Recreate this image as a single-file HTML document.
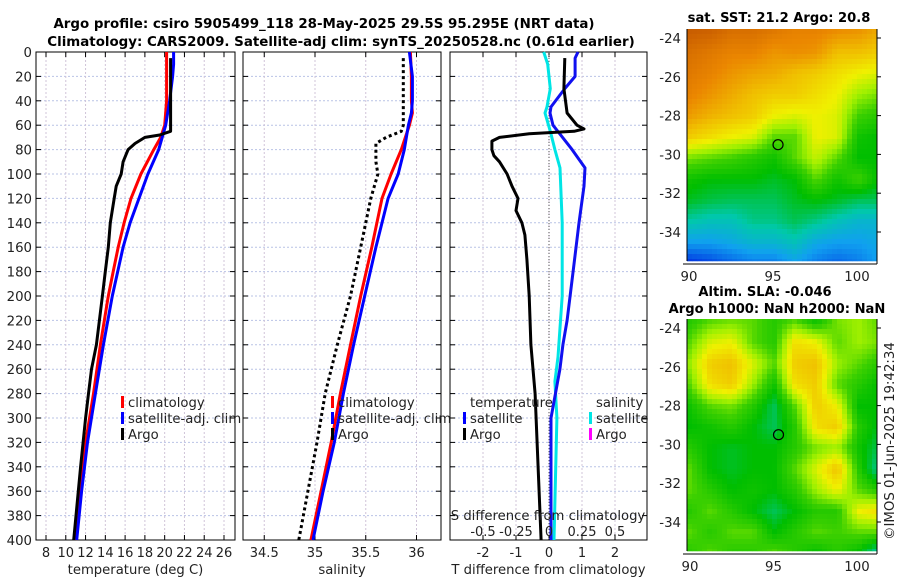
<!DOCTYPE html>
<html><head><meta charset="utf-8"><style>
html,body{margin:0;padding:0;background:#fff;}
svg{display:block;font-family:"DejaVu Sans","Liberation Sans",sans-serif;}
</style></head><body>
<svg id="fig" width="900" height="580" viewBox="0 0 900 580" xmlns="http://www.w3.org/2000/svg">
<text x="324" y="28" text-anchor="middle" font-size="13.4" font-weight="bold">Argo profile: csiro 5905499_118 28-May-2025 29.5S 95.295E (NRT data)</text>
<text x="341" y="46" text-anchor="middle" font-size="13.4" font-weight="bold">Climatology: CARS2009. Satellite-adj clim: synTS_20250528.nc (0.61d earlier)</text>
<text x="779" y="22" text-anchor="middle" font-size="13.1" font-weight="bold">sat. SST: 21.2 Argo: 20.8</text>
<text x="765" y="296" text-anchor="middle" font-size="13.1" font-weight="bold">Altim. SLA: -0.046</text>
<text x="777" y="313" text-anchor="middle" font-size="13.1" font-weight="bold">Argo h1000: NaN h2000: NaN</text>
<text transform="translate(894,441) rotate(-90)" text-anchor="middle" font-size="13.3" fill="#222">©IMOS 01-Jun-2025 19:42:34</text>
<g id="panels"></g>
<g id="maps"></g>
</svg>
<script>
// ---------- data ----------
const depthClim = [0,20,40,60,70,80,100,120,140,160,180,200,240,280,320,360,400];
const tempClim  = [20.2,20.2,20.2,20.0,19.6,18.9,17.6,16.6,15.9,15.3,14.8,14.3,13.5,12.8,12.0,11.5,11.0];
const depthSat = [0,10,20,40,60,80,100,120,140,160,200,240,280,320,360,400];
const tempSat  = [20.9,20.9,20.8,20.5,20.1,19.4,18.3,17.4,16.5,15.8,14.7,13.8,13.0,12.2,11.6,11.1];
const depthArgo = [5,60,65,68,70,75,80,90,100,110,120,140,160,180,200,240,260,280,300,340,400];
const tempArgo  = [20.6,20.6,20.6,19.5,18.0,17.0,16.3,15.8,15.6,15.1,14.9,14.5,14.3,14.0,13.7,13.1,12.6,12.3,12.0,11.5,10.8];
const depthSalClim = [0,20,40,50,60,80,100,120,160,200,240,280,320,360,400];
const salClim  = [35.94,35.95,35.95,35.96,35.93,35.85,35.75,35.66,35.56,35.45,35.35,35.25,35.16,35.06,34.96];
const salSat   = [35.93,35.96,35.96,35.95,35.92,35.88,35.82,35.72,35.60,35.49,35.38,35.28,35.19,35.08,34.98];
const depthSalArgo = [5,60,65,70,75,90,100,120,160,200,240,280,320,360,400];
const salArgo  = [35.87,35.87,35.85,35.70,35.60,35.60,35.62,35.55,35.45,35.35,35.22,35.10,35.02,34.93,34.84];
const depthTdSat = [0,5,20,30,45,50,60,80,95,110,140,180,220,240,260,300,400];
const tDiffSat   = [0.88,0.79,0.79,0.48,0.06,0.03,0.12,0.70,1.09,1.06,0.91,0.73,0.55,0.42,0.33,0.06,0.06];
const depthTdArgo = [5,30,50,60,63,65,67,70,73,80,85,90,100,110,120,130,140,150,170,200,240,280,320,360,400];
const tDiffArgo   = [0.48,0.45,0.55,0.85,1.06,0.76,-0.6,-1.5,-1.73,-1.73,-1.67,-1.5,-1.27,-1.12,-0.94,-1.0,-0.82,-0.73,-0.67,-0.6,-0.55,-0.42,-0.36,-0.3,-0.24];
const depthSdSat = [0,10,30,45,50,65,80,95,140,200,250,270,300,400];
const sDiffSat   = [-0.04,-0.01,0.01,-0.015,-0.03,0.01,0.045,0.083,0.1,0.1,0.068,0.045,0.06,0.038];
const depthTicks = [0,20,40,60,80,100,120,140,160,180,200,220,240,260,280,300,320,340,360,380,400];
const tempTicks = [8,10,12,14,16,18,20,22,24,26];
const salTicks = [34.5,35,35.5,36];
const tdTicks = [-2,-1,0,1,2];
const sdTicks = [-0.5,-0.25,0,0.25,0.5];
const latTicks = [-24,-26,-28,-30,-32,-34];
const lonTicks = [90,95,100];
const argoLon = 95.3, argoLat = -29.5;
const sstGrid = [
[.97,.96,.93,.93,.91,.89,.89,.87,.86,.83],
[.93,.91,.89,.89,.86,.87,.86,.8,.8,.78],
[.91,.89,.86,.84,.83,.8,.78,.75,.72,.7],
[.89,.86,.83,.8,.78,.78,.75,.72,.65,.62],
[.85,.82,.8,.78,.72,.7,.72,.7,.58,.55],
[.78,.75,.72,.7,.6,.6,.72,.7,.52,.5],
[.62,.6,.58,.55,.52,.6,.68,.6,.5,.5],
[.52,.5,.5,.5,.48,.5,.6,.52,.58,.5],
[.48,.46,.45,.45,.45,.48,.5,.48,.45,.45],
[.4,.38,.38,.42,.42,.45,.42,.38,.35,.35],
[.3,.3,.32,.35,.35,.38,.32,.3,.3,.32],
[.15,.18,.22,.25,.25,.3,.25,.22,.25,.3]];
const slaGrid = [
[.55,.6,.62,.6,.55,.6,.52,.62,.65,.6],
[.6,.7,.72,.6,.55,.75,.72,.6,.65,.62],
[.65,.78,.8,.7,.6,.78,.8,.65,.6,.55],
[.6,.75,.78,.65,.52,.75,.78,.6,.55,.5],
[.52,.6,.62,.55,.45,.6,.78,.72,.5,.5],
[.5,.52,.55,.5,.45,.55,.75,.78,.55,.48],
[.55,.5,.48,.5,.5,.55,.62,.65,.52,.45],
[.6,.5,.48,.5,.5,.6,.7,.8,.55,.4],
[.6,.55,.5,.52,.5,.55,.65,.72,.6,.55],
[.55,.6,.55,.5,.45,.5,.55,.55,.72,.75],
[.6,.55,.6,.6,.5,.55,.6,.58,.6,.6],
[.55,.6,.55,.55,.6,.55,.5,.55,.5,.38]];

// ---------- helpers ----------
const NS="http://www.w3.org/2000/svg";
function mk(tag,attrs,parent){const e=document.createElementNS(NS,tag);for(const k in attrs)e.setAttribute(k,attrs[k]);parent.appendChild(e);return e;}
const P = document.getElementById('panels');
const M = document.getElementById('maps');
const yTop=52, yBot=540;
const yD = d => yTop + d*(yBot-yTop)/400;
const panels = [
 {name:'temperature-panel', x0:36, x1:235, sx:v=>46+(v-8)*(224-46)/18, ticks:tempTicks, label:'temperature (deg C)'},
 {name:'salinity-panel', x0:243, x1:441, sx:v=>315+(v-35)*101.5, ticks:salTicks, label:'salinity'},
 {name:'difference-panel', x0:450, x1:647, sx:v=>549+v*33, ticks:tdTicks, label:'T difference from climatology'}
];
const sdX = v => 549 + v*132;

panels.forEach((p,pi)=>{
  const g=mk('g',{},P);
  
  
  depthTicks.forEach(d=>{
    const l=mk('line',{x1:p.x0,x2:p.x1,y1:yD(d),y2:yD(d),stroke:'#b9c3e6','stroke-width':1,'stroke-dasharray':'2,2'},g);
    
    
  });
  p.ticks.forEach(t=>{
    const x=p.sx(t);
    const l=mk('line',{x1:x,x2:x,y1:yTop,y2:yBot,stroke:'#d0c4d8','stroke-width':1,'stroke-dasharray':'2,2'},g);
    
    
    const tx=mk('text',{x:x,y:557,'text-anchor':'middle','font-size':13,fill:'#222'},g);
    tx.textContent=String(t);
    
    
    mk('line',{x1:x,x2:x,y1:yBot,y2:yBot-5,stroke:'#000'},g);
    mk('line',{x1:x,x2:x,y1:yTop,y2:yTop+5,stroke:'#000'},g);
  });
  depthTicks.forEach(d=>{
    mk('line',{x1:p.x0,x2:p.x0+5,y1:yD(d),y2:yD(d),stroke:'#000'},g);
    mk('line',{x1:p.x1,x2:p.x1-5,y1:yD(d),y2:yD(d),stroke:'#000'},g);
    if(pi===0){
      const tx=mk('text',{x:32,y:yD(d)+5,'text-anchor':'end','font-size':13.3,fill:'#222'},g);
      tx.textContent=String(d);
      
      
    }
  });
  const fr=mk('rect',{x:p.x0,y:yTop,width:p.x1-p.x0,height:yBot-yTop,fill:'none',stroke:'#000','stroke-width':1},g);
  
  
  const xl=mk('text',{x:(p.x0+p.x1)/2,y:574,'text-anchor':'middle','font-size':13.2,fill:'#222'},g);
  xl.textContent=p.label;
  
  
});

function line(depths, vals, sx, color, name, dash, w){
  const pts=depths.map((d,i)=>sx(vals[i]).toFixed(1)+','+yD(d).toFixed(1)).join(' ');
  const a={points:pts,fill:'none',stroke:color,'stroke-width':w||3,'stroke-linejoin':'round'};
  if(dash)a['stroke-dasharray']=dash;
  const e=mk('polyline',a,P);
  
  
}
const z=mk('line',{x1:549,x2:549,y1:yTop,y2:yBot,stroke:'#555','stroke-width':1,'stroke-dasharray':'1,2'},P);



line(depthClim,tempClim,panels[0].sx,'#ff0000','temp-climatology-line');
line(depthSat,tempSat,panels[0].sx,'#0000ff','temp-satellite-line');
line(depthArgo,tempArgo,panels[0].sx,'#000000','temp-argo-line');
line(depthSalClim,salClim,panels[1].sx,'#ff0000','sal-climatology-line');
line(depthSalClim,salSat,panels[1].sx,'#0000ff','sal-satellite-line');
line(depthSalArgo,salArgo,panels[1].sx,'#000000','sal-argo-line','3,3');
line(depthSdSat,sDiffSat,sdX,'#00e5e5','sdiff-satellite-line');
line(depthTdSat,tDiffSat,panels[2].sx,'#1010f0','tdiff-satellite-line');
line(depthTdArgo,tDiffArgo,panels[2].sx,'#000000','tdiff-argo-line');

const st=mk('text',{x:548,y:520,'text-anchor':'middle','font-size':13.2,fill:'#222'},P);
st.textContent='S difference from climatology';


sdTicks.forEach(t=>{
  const tx=mk('text',{x:sdX(t),y:536,'text-anchor':'middle','font-size':13,fill:'#222'},P);
  tx.textContent=String(t);
  
  
});

function legend(x,y,color,label,name){
  const r=mk('rect',{x:x,y:y-11,width:3,height:12,fill:color},P);
  
  
  const t=mk('text',{x:x+7,y:y,'font-size':13.2,fill:'#222'},P);
  t.textContent=label;
  
  
}
legend(121,407,'#ff0000','climatology','legend-climatology');
legend(121,423,'#0000ff','satellite-adj. clim','legend-satellite');
legend(121,439,'#000000','Argo','legend-argo');
legend(331,407,'#ff0000','climatology','legend-sal-climatology');
legend(331,423,'#0000ff','satellite-adj. clim','legend-sal-satellite');
legend(331,439,'#000000','Argo','legend-sal-argo');
const lt=mk('text',{x:470,y:407,'font-size':13.2,fill:'#222'},P);lt.textContent='temperature';


const ls=mk('text',{x:596,y:407,'font-size':13.2,fill:'#222'},P);ls.textContent='salinity';


legend(463,423,'#0000ff','satellite','legend-tdiff-satellite');
legend(463,439,'#000000','Argo','legend-tdiff-argo');
legend(589,423,'#00e5e5','satellite','legend-sdiff-satellite');
legend(589,439,'#ff00ff','Argo','legend-sdiff-argo');

// ---------- maps ----------
const stops=[[0,[0,0,140]],[.15,[0,48,224]],[.3,[16,160,240]],[.4,[0,200,170]],[.5,[0,190,0]],[.58,[60,208,0]],[.65,[160,240,0]],[.72,[240,240,0]],[.8,[240,192,0]],[.88,[235,135,0]],[1,[190,80,0]]];
function cmap(v){v=Math.max(0,Math.min(1,v));for(let i=1;i<stops.length;i++){if(v<=stops[i][0]){const a=stops[i-1],b=stops[i];const t=(v-a[0])/(b[0]-a[0]);return 'rgb('+a[1].map((c,k)=>Math.round(c+(b[1][k]-c)*t)).join(',')+')';}}return 'rgb(190,80,0)';}
function sample(grid,fx,fy){const R=grid.length,C=grid[0].length;const x=fx*(C-1),y=fy*(R-1);const i=Math.min(Math.floor(y),R-2),j=Math.min(Math.floor(x),C-2);const ty=y-i,tx=x-j;
  return grid[i][j]*(1-tx)*(1-ty)+grid[i][j+1]*tx*(1-ty)+grid[i+1][j]*(1-tx)*ty+grid[i+1][j+1]*tx*ty;}
function drawMap(name,grid,x0,y0,x1,y1,lat24y,lat34y,lon90x,lon100x){
  const g=mk('g',{},M);
  
  
  const cs=5;
  for(let yy=y0;yy<y1;yy+=cs){for(let xx=x0;xx<x1;xx+=cs){
    const v=sample(grid,(xx-x0)/(x1-x0),(yy-y0)/(y1-y0));
    mk('rect',{x:xx,y:yy,width:Math.min(cs,x1-xx)+0.3,height:Math.min(cs,y1-yy)+0.3,fill:cmap(v)},g);
  }}
  const latY=l=>lat24y+(l+24)*(lat34y-lat24y)/(-10);
  const lonX=l=>lon90x+(l-90)*(lon100x-lon90x)/10;
  mk('line',{x1:x0,x2:x0,y1:y0,y2:y1,stroke:'#000'},g);
  mk('line',{x1:x1,x2:x1,y1:y0,y2:y1+3,stroke:'#000'},g);
  mk('line',{x1:x0-4,x2:x1,y1:y1+3,y2:y1+3,stroke:'#000'},g);
  latTicks.forEach(l=>{
    const y=latY(l);
    mk('line',{x1:x1,x2:x1+4,y1:y,y2:y,stroke:'#000'},g);
    const t=mk('text',{x:x0-6,y:y+5,'text-anchor':'end','font-size':13.3,fill:'#222'},g);
    t.textContent=String(l);
    
    
  });
  lonTicks.forEach(l=>{
    const x=lonX(l);
    const t=mk('text',{x:x,y:y1+20,'text-anchor':'middle','font-size':13.3,fill:'#222'},g);
    t.textContent=String(l);
    
    
  });
  const c=mk('circle',{cx:lonX(argoLon),cy:latY(argoLat),r:5,fill:'none',stroke:'#000','stroke-width':1.2},g);
  
  
}
drawMap('sst-map',sstGrid,687,29,877,261,38,232,689,857);
drawMap('sla-map',slaGrid,687,319,877,551,328,522,690,857);
</script>
</body></html>
